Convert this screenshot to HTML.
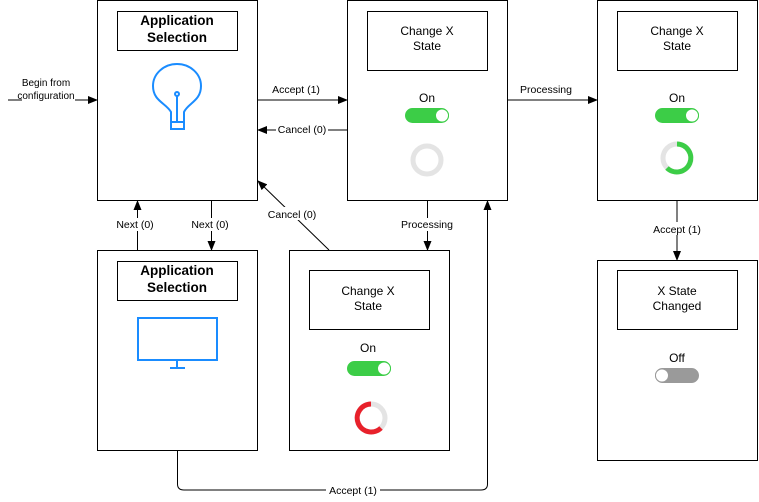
<!DOCTYPE html>
<html><head><style>html,body{margin:0;padding:0;background:#fff}svg{display:block}text{font-family:"Liberation Sans",sans-serif;font-size:11px;fill:#000}</style></head><body>
<svg width="759" height="502" viewBox="0 0 759 502" xmlns="http://www.w3.org/2000/svg">
<defs><marker id="a" markerWidth="10" markerHeight="8" refX="9" refY="4" orient="auto" markerUnits="userSpaceOnUse"><path d="M0,0 L10,4 L0,8 z" fill="#000"/></marker></defs>
<g fill="#fff" stroke="#000" stroke-width="1">
<rect x="97.5" y="0.5" width="160" height="200"/>
<rect x="117.5" y="11.5" width="120" height="39"/>
<rect x="347.5" y="0.5" width="160" height="200"/>
<rect x="367.5" y="11.5" width="120" height="59"/>
<rect x="597.5" y="0.5" width="160" height="200"/>
<rect x="617.5" y="11.5" width="120" height="59"/>
<rect x="97.5" y="250.5" width="160" height="200"/>
<rect x="117.5" y="261.5" width="120" height="39"/>
<rect x="289.5" y="250.5" width="160" height="200"/>
<rect x="309.5" y="270.5" width="120" height="59"/>
<rect x="597.5" y="260.5" width="160" height="200"/>
<rect x="617.5" y="270.5" width="120" height="59"/>
</g>
<g font-weight="bold" text-anchor="middle">
<text x="177" y="25" style="font-size:13.5px;font-weight:bold">Application</text>
<text x="177" y="42" style="font-size:13.5px;font-weight:bold">Selection</text>
<text x="177" y="275" style="font-size:13.5px;font-weight:bold">Application</text>
<text x="177" y="292" style="font-size:13.5px;font-weight:bold">Selection</text>
</g>
<g text-anchor="middle" style="font-size:12px">
<text x="427" y="35" style="font-size:12px">Change X</text><text x="427" y="50" style="font-size:12px">State</text>
<text x="677" y="35" style="font-size:12px">Change X</text><text x="677" y="50" style="font-size:12px">State</text>
<text x="368" y="295" style="font-size:12px">Change X</text><text x="368" y="310" style="font-size:12px">State</text>
<text x="677" y="295" style="font-size:12px">X State</text><text x="677" y="310" style="font-size:12px">Changed</text>
<text x="427" y="102" style="font-size:12px">On</text>
<text x="677" y="102" style="font-size:12px">On</text>
<text x="368" y="352" style="font-size:12px">On</text>
<text x="677" y="362" style="font-size:12px">Off</text>
</g>
<!-- toggles -->
<rect x="405" y="108" width="44" height="15" rx="7.5" fill="#3ccd47"/><circle cx="442" cy="115.5" r="6.5" fill="#fff" stroke="#3ccd47"/>
<rect x="655" y="108" width="44" height="15" rx="7.5" fill="#3ccd47"/><circle cx="692" cy="115.5" r="6.5" fill="#fff" stroke="#3ccd47"/>
<rect x="347" y="361" width="44" height="15" rx="7.5" fill="#3ccd47"/><circle cx="384" cy="368.5" r="6.5" fill="#fff" stroke="#3ccd47"/>
<rect x="655" y="368" width="44" height="15" rx="7.5" fill="#9a9a9a"/><circle cx="662" cy="375.5" r="6.5" fill="#fff" stroke="#9a9a9a"/>
<!-- spinners -->
<circle cx="427" cy="160" r="14" fill="none" stroke="#e4e4e4" stroke-width="5"/>
<circle cx="677" cy="158" r="14" fill="none" stroke="#e4e4e4" stroke-width="5"/>
<path d="M677,144 A14,14 0 1 1 667,168" fill="none" stroke="#3ccd47" stroke-width="5"/>
<circle cx="371" cy="418" r="14" fill="none" stroke="#e4e4e4" stroke-width="5"/>
<path d="M371,404 A14,14 0 1 0 381,428" fill="none" stroke="#e8212b" stroke-width="5"/>
<!-- bulb -->
<g fill="none" stroke="#1a8cff" stroke-width="2">
<path d="M171,122 L171,112 C166,103 153,101 153,86 A24,22 0 0 1 201,86 C201,101 188,103 184,112 L184,122"/>
<rect x="171" y="122" width="13" height="7"/>
<line x1="177" y1="96" x2="177" y2="122"/>
<circle cx="177" cy="94" r="2"/>
<!-- monitor -->
<rect x="138" y="318" width="79" height="42"/>
<line x1="177" y1="360" x2="177" y2="368"/>
<line x1="170" y1="368" x2="185" y2="368"/>
</g>
<!-- connectors -->
<g stroke="#000" stroke-width="1" fill="none">
<line x1="8" y1="100" x2="97" y2="100" marker-end="url(#a)"/>
<line x1="258" y1="100" x2="347" y2="100" marker-end="url(#a)"/>
<line x1="347" y1="130" x2="258" y2="130" marker-end="url(#a)"/>
<line x1="508" y1="100" x2="597" y2="100" marker-end="url(#a)"/>
<line x1="677" y1="201" x2="677" y2="260" marker-end="url(#a)"/>
<line x1="137.5" y1="250" x2="137.5" y2="201" marker-end="url(#a)"/>
<line x1="211.5" y1="201" x2="211.5" y2="250" marker-end="url(#a)"/>
<line x1="329" y1="250" x2="258" y2="181" marker-end="url(#a)"/>
<line x1="427.5" y1="201" x2="427.5" y2="250" marker-end="url(#a)"/>
<path d="M177.5,451 L177.5,484 Q177.5,490 184,490 L481,490 Q487.5,490 487.5,484 L487.5,201" marker-end="url(#a)"/>
</g>
<g text-anchor="middle">
<rect x="22" y="78" width="53" height="26" fill="#fff"/>
<text x="46" y="86" style="font-size:10px">Begin from</text>
<text x="46" y="99" style="font-size:10px">configuration</text>
<text x="296" y="93" style="font-size:10.5px">Accept (1)</text>
<rect x="276" y="123" width="52" height="13" fill="#fff"/>
<text x="302" y="133" style="font-size:10.5px">Cancel (0)</text>
<text x="546" y="93" style="font-size:10.5px">Processing</text>
<rect x="648" y="222" width="56" height="13" fill="#fff"/>
<text x="677" y="233" style="font-size:10.5px">Accept (1)</text>
<rect x="114" y="218" width="42" height="13" fill="#fff"/>
<text x="135" y="228" style="font-size:10.5px">Next (0)</text>
<rect x="188" y="218" width="44" height="13" fill="#fff"/>
<text x="210" y="228" style="font-size:10.5px">Next (0)</text>
<rect x="266" y="207" width="52" height="13" fill="#fff"/>
<text x="292" y="218" style="font-size:10.5px">Cancel (0)</text>
<rect x="398" y="218" width="58" height="13" fill="#fff"/>
<text x="427" y="228" style="font-size:10.5px">Processing</text>
<rect x="326" y="484" width="54" height="12" fill="#fff"/>
<text x="353" y="494" style="font-size:10.5px">Accept (1)</text>
</g>
</svg>
</body></html>
